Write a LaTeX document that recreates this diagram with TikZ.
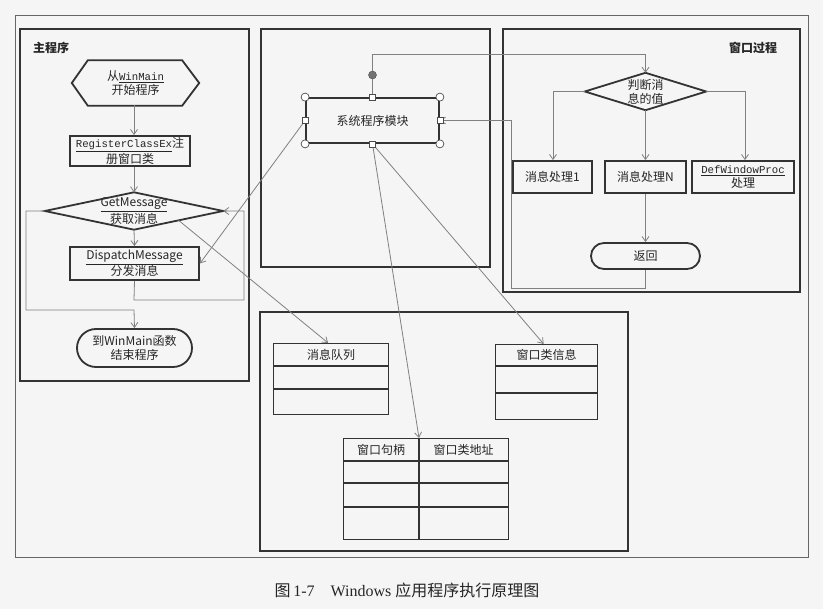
\documentclass[tikz,border=0pt]{standalone}
\usepackage{fontspec}
\setmainfont{Noto Sans CJK SC}
\setmonofont{Liberation Mono}
\newfontfamily\cjk{Noto Sans CJK SC}
\newfontfamily\capser{Liberation Serif}
\usetikzlibrary{arrows.meta,calc}
\newcommand\mnTxt[1]{{\fontsize{10.7}{13}\selectfont\ttfamily #1}}
\begin{document}
\begin{tikzpicture}[x=1pt,y=-1pt,
  every node/.style={font=\fontsize{12}{14}\selectfont, text=black!85},
  frame/.style={draw=black!80, line width=2pt},
  outline/.style={draw=black!80, line width=1.8pt},
  box/.style={draw=black!80, line width=1.8pt, inner sep=1pt, align=center},
  ghost/.style={inner sep=0pt, align=center},
  conn/.style={draw=black!50, line width=0.8pt, -{Straight Barb[length=5pt,width=7pt]}},
  wire/.style={draw=black!50, line width=0.8pt},
  tbl/.style={draw=black!80, line width=1.3pt, inner sep=0pt},
  lbl/.style={font=\fontsize{12}{14}\selectfont\bfseries},
  hcirc/.style={circle, draw=black!70, line width=0.7pt, fill=white, minimum size=8pt, inner sep=0pt},
  hsq/.style={rectangle, draw=black!70, line width=0.7pt, fill=white, minimum size=6pt, inner sep=0pt}]
\useasboundingbox (0,0) rectangle (823,609);
\fill[white!96!black] (0,0) rectangle (823,609);

% outer thin frame
\draw[black!60, line width=0.8pt] (15,15) rectangle (808,557);

% ---------------- main program ----------------
\draw[frame] (20,29) rectangle (249,381);
\node[lbl] (mainlbl) at (51,48) {主程序};

\node[ghost, minimum width=127pt, minimum height=45pt] (hex) at (135.5,83)
  {从\underline{\mnTxt{WinMain}}\\开始程序};
\draw[outline] (hex.west) -- ([xshift=16]hex.north west) -- ([xshift=-17]hex.north east)
  -- (hex.east) -- ([xshift=-17]hex.south east) -- ([xshift=16]hex.south west) -- cycle;

\node[box, minimum width=120pt, minimum height=30pt] (reg) at (130,151)
  {\underline{\mnTxt{RegisterClassEx}}注\\册窗口类};

\node[ghost, minimum width=178pt, minimum height=37pt] (gm) at (134,211)
  {\underline{GetMessage}\\获取消息};
\draw[outline] (gm.west) -- (gm.north) -- (gm.east) -- (gm.south) -- cycle;

\node[box, minimum width=129pt, minimum height=33pt] (disp) at (134.5,263.5)
  {\underline{DispatchMessage}\\分发消息};

\node[box, minimum width=115pt, minimum height=38pt, rounded corners=19pt] (endt) at (134.5,348)
  {到WinMain函数\\结束程序};

\coordinate (hexs) at (134,105.5);
\draw[conn] (hexs) -- (hexs |- reg.north);
\draw[conn] (hexs |- reg.south) -- (gm.north);
\draw[conn] (gm.south) -- (disp.north);
\coordinate (l1) at (26,211);
\coordinate (l2) at (26,310);
\coordinate (l3) at (134,310);
\draw[conn] (gm.west) -- (l1) -- (l2) -- (l3) -- (endt.north);
\coordinate (r1) at (134,300);
\coordinate (r2) at (244,300);
\coordinate (r3) at (244,211);
\draw[conn] (disp.south) -- (r1) -- (r2) -- (r3) -- (gm.east);

% ---------------- system module ----------------
\draw[frame] (261,29) rectangle (490,267);
\node[ghost, minimum width=133pt, minimum height=45pt, draw=black!80, line width=1.8pt] (sys) at (372.5,120.5) {系统程序模块};
\node[circle, fill=black!55, draw=black!70, minimum size=8pt, inner sep=0pt] (rot) at (372.5,75) {};
\draw[wire] (rot) -- (sys.north);

% ---------------- window procedure ----------------
\draw[frame] (503,29) rectangle (800,292);
\node[lbl] (wplbl) at (753,48) {窗口过程};

\node[ghost, minimum width=121pt, minimum height=37pt] (jd) at (645.5,91.5) {判断消\\息的值};
\draw[outline] (jd.west) -- (jd.north) -- (jd.east) -- (jd.south) -- cycle;

\node[box, minimum width=79pt, minimum height=32pt] (p1) at (552.5,177) {消息处理1};
\node[box, minimum width=81pt, minimum height=32pt] (pN) at (645.5,177) {消息处理N};
\node[box, minimum width=102pt, minimum height=32pt] (pD) at (743,177) {\underline{\mnTxt{DefWindowProc}}\\处理};
\node[box, minimum width=109pt, minimum height=26pt, rounded corners=13pt] (ret) at (645.5,256) {返回};

\coordinate (j1) at (553,91.5);
\coordinate (j2) at (745,91.5);
\draw[conn] (jd.west) -- (j1) -- (j1 |- p1.north);
\draw[conn] (jd.south) -- (pN.north);
\draw[conn] (jd.east) -- (j2) -- (j2 |- pD.north);
\draw[conn] (pN.south) -- (ret.north);

% ---------------- data area ----------------
\draw[frame] (260,312) rectangle (628,551);

\node[tbl, draw, minimum width=115pt, minimum height=71pt, anchor=north west] (q) at (273,343) {};
\draw[tbl] ([yshift=-23]q.north west) -- ([yshift=-23]q.north east);
\draw[tbl] ([yshift=-46]q.north west) -- ([yshift=-46]q.north east);
\node (qh) at ($(q.north)+(0,11.5)$) {消息队列};

\node[tbl, draw, minimum width=102pt, minimum height=75pt, anchor=north west] (ci) at (495,344) {};
\draw[tbl] ([yshift=-22]ci.north west) -- ([yshift=-22]ci.north east);
\draw[tbl] ([yshift=-49]ci.north west) -- ([yshift=-49]ci.north east);
\node (cih) at ($(ci.north)+(0,11)$) {窗口类信息};

\node[tbl, draw, minimum width=165pt, minimum height=101pt, anchor=north west] (ht) at (343,438) {};
\draw[tbl] ([yshift=-23]ht.north west) -- ([yshift=-23]ht.north east);
\draw[tbl] ([yshift=-45]ht.north west) -- ([yshift=-45]ht.north east);
\draw[tbl] ([yshift=-69]ht.north west) -- ([yshift=-69]ht.north east);
\coordinate (htd) at (419,438);
\draw[tbl] (htd) -- (htd |- ht.south);
\node (hth1) at (381,450) {窗口句柄};
\node (hth2) at (463.5,450) {窗口类地址};

% ---------------- cross connectors ----------------
\coordinate (w1) at (372.5,54);
\coordinate (w2) at (645.5,54);
\draw[conn] (rot.north) -- (w1) -- (w2) -- (jd.north);
\coordinate (b1) at (645.5,288);
\coordinate (b2) at (511,288);
\coordinate (b3) at (511,120.5);
\draw[conn] (ret.south) -- (b1) -- (b2) -- (b3) -- (sys.east);
\draw[conn] (sys.west) -- (disp.east);
\coordinate (gmr) at ($(gm.south)!0.5!(gm.east)$);
\draw[conn] (gmr) -- ($(q.north)+(-3,0)$);
\draw[conn] (sys.south) -- ($(ci.north)+(-3,0)$);
\draw[conn] (sys.south) -- (htd);

% selection handles of the system module
\foreach \a in {north west, north east, south west, south east}
  \node[hcirc] at (sys.\a) {};
\foreach \a in {north, south, east, west}
  \node[hsq] at (sys.\a) {};

% caption
\node (cap) at (407,590) {\fontsize{16}{18}\selectfont 图\,{\capser 1-7\quad Windows }应用程序执行原理图};
\end{tikzpicture}
\end{document}
